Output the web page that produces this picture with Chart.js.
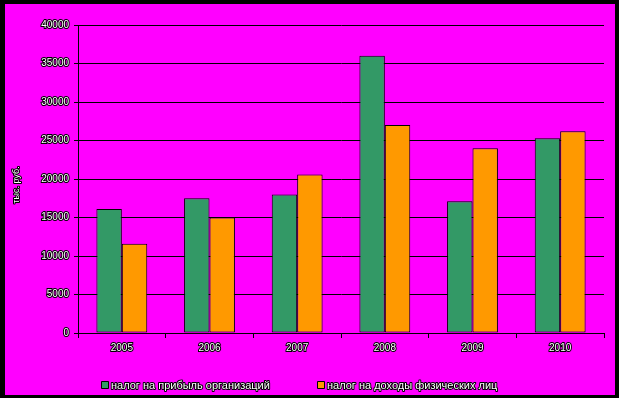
<!DOCTYPE html>
<html>
<head>
<meta charset="utf-8">
<script src="https://cdn.jsdelivr.net/npm/chart.js@4/dist/chart.umd.min.js"></script>
<style>
  html, body { margin: 0; padding: 0; background: #000; }
  #frame { position: absolute; left: 5px; top: 4px; width: 610px; height: 391px; background: #ff00ff; }
  canvas { display: block; }
</style>
</head>
<body>
<div id="frame"><canvas id="chart" width="610" height="391"></canvas></div>
<script>
// Data
const years = ["2005", "2006", "2007", "2008", "2009", "2010"];
const profitTax = [16100, 17500, 18000, 36000, 17100, 25300];
const incomeTax = [11600, 15000, 20600, 27000, 24000, 26200];
const seriesNames = ["налог на прибыль организаций", "налог на доходы физических лиц"];
const seriesColors = ["#339966", "#ff9900"];
const yTitle = "тыс. руб.";

// outlined text helper (white with black edge)
function outlined(ctx, text, x, y) {
    ctx.lineWidth = 2;
    ctx.strokeStyle = "#000";
    ctx.fillStyle = "#fff";
    ctx.strokeText(text, x, y);
    ctx.fillText(text, x, y);
}

// ----------------------
// Legend + axis title drawn on canvas
// ----------------------
const extras = {
    id: "extras",
    afterDraw(chart) {
        const ctx = chart.ctx;
        ctx.save();
        ctx.lineJoin = "round";

        // y axis title
        ctx.font = "9px 'Liberation Sans', Arial, sans-serif";
        ctx.textAlign = "center";
        ctx.textBaseline = "middle";
        ctx.translate(12, 181);
        ctx.rotate(-Math.PI / 2);
        outlined(ctx, yTitle, 0, 0);
        ctx.setTransform(1, 0, 0, 1, 0, 0);

        // legend
        ctx.font = "11px 'Liberation Sans', Arial, sans-serif";
        ctx.textAlign = "left";
        const legendX = [96, 312];
        const legendY = 377;
        seriesNames.forEach((name, i) => {
            ctx.fillStyle = seriesColors[i];
            ctx.fillRect(legendX[i] + 0.5, legendY + 0.5, 7, 7);
            ctx.lineWidth = 1;
            ctx.strokeStyle = "#000";
            ctx.strokeRect(legendX[i] + 0.5, legendY + 0.5, 7, 7);
            outlined(ctx, name, legendX[i] + 10, legendY + 4.5);
        });
        ctx.restore();
    }
};

const tickFont = { family: "'Liberation Sans', Arial, sans-serif", size: 10 };

new Chart(document.getElementById("chart").getContext("2d"), {
    type: "bar",
    data: {
        labels: years,
        datasets: [
            { label: seriesNames[0], data: profitTax, backgroundColor: seriesColors[0], borderColor: "#000", borderWidth: 1, borderSkipped: false },
            { label: seriesNames[1], data: incomeTax, backgroundColor: seriesColors[1], borderColor: "#000", borderWidth: 1, borderSkipped: false }
        ]
    },
    options: {
        responsive: false,
        animation: false,
        layout: { padding: { left: 0, top: 21, right: 11, bottom: 0 } },
        datasets: { bar: { categoryPercentage: 0.58, barPercentage: 1 } },
        plugins: {
            legend: { display: false },
            tooltip: { enabled: false }
        },
        scales: {
            x: {
                grid: { offset: true, drawOnChartArea: false, color: "#000", tickLength: 5 },
                border: { color: "#000", width: 1 },
                ticks: { color: "#fff", textStrokeColor: "#000", textStrokeWidth: 2, font: tickFont, padding: 4, maxRotation: 0 },
                afterFit(scale) { scale.height = 62; }
            },
            y: {
                min: 0,
                max: 40000,
                ticks: {
                    stepSize: 5000, color: "#fff", textStrokeColor: "#000", textStrokeWidth: 2, font: tickFont, padding: 5,
                    callback: (v) => String(v)
                },
                grid: { color: "#000", tickLength: 4 },
                border: { color: "#000", width: 1 },
                afterFit(scale) { scale.width = 73; }
            }
        }
    },
    plugins: [extras]
});
</script>
</body>
</html>
